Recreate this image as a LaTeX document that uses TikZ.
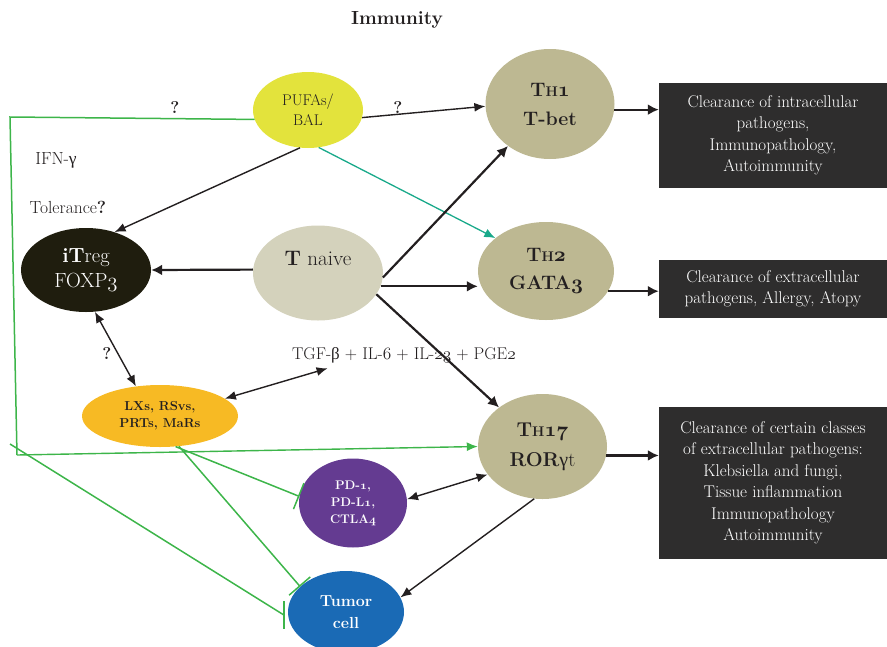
\documentclass[tikz,border=0pt]{standalone}
\usepackage{fontspec}
\usetikzlibrary{shapes.geometric,arrows.meta}
\newfontfamily\grk{Liberation Serif}
% old-style figures from the math italic font
\newcommand\osn[1]{{\fontencoding{OML}\fontfamily{cmm}\fontshape{it}\selectfont #1}}
\newcommand\subH{{\fontsize{14}{14}\selectfont H}}
\definecolor{ink}{HTML}{231F20}
\definecolor{pufc}{HTML}{E3E33C}
\definecolor{thc}{HTML}{BDB892}
\definecolor{naivec}{HTML}{D4D2BC}
\definecolor{tregc}{HTML}{1F1D0E}
\definecolor{lxc}{HTML}{F7BA24}
\definecolor{pdc}{HTML}{643B91}
\definecolor{tumc}{HTML}{1A6AB5}
\definecolor{boxc}{HTML}{2E2D2D}
\definecolor{grn}{HTML}{3DB54A}
\definecolor{teal}{HTML}{19A98A}
\tikzset{
  cell/.style={ellipse, inner sep=0pt, align=center, text=ink},
  outbox/.style={fill=boxc, text=white, align=center, inner sep=0pt,
    minimum width=228pt, font=\fontsize{17}{21.5}\selectfont},
  lab/.style={text=ink, font=\fontsize{17.5}{17.5}\selectfont},
  qlab/.style={text=ink, font=\bfseries\fontsize{17}{17}\selectfont},
  arr/.style={draw=ink, line width=2.2pt, -{Latex[length=11pt,width=11pt]}},
  thinarr/.style={draw=ink, line width=1.4pt, -{Latex[length=11pt,width=9pt]}},
  biarr/.style={draw=ink, line width=1.4pt, {Latex[length=11pt,width=9pt]}-{Latex[length=11pt,width=9pt]}},
  garr/.style={draw=grn, line width=1.4pt, -{Latex[length=11pt,width=9pt]}},
  tarr/.style={draw=teal, line width=1.3pt, -{Latex[length=11pt,width=9pt]}},
  gline/.style={draw=grn, line width=1.5pt},
  ginh/.style={draw=grn, line width=1.5pt, -{Bar[width=28pt,line width=1.5pt]}},
}
\begin{document}
\begin{tikzpicture}[x=1pt,y=-1pt]
\useasboundingbox (0,0) rectangle (887,646);

\node[font=\bfseries\fontsize{19}{19}\selectfont, text=ink] (title) at (397,20) {Immunity};

% cells
\node[cell, fill=pufc, minimum width=110pt, minimum height=76pt,
  font=\fontsize{15.5}{20}\selectfont] (puf) at (308,110) {PUFAs/\\BAL};
\node[cell, fill=thc, minimum width=129pt, minimum height=110pt,
  font=\bfseries\fontsize{19.5}{29}\selectfont] (th1) at (550,104) {T\subH\osn{1}\\T-bet};
\node[cell, fill=naivec, minimum width=130pt, minimum height=95pt] (tn) at (318,273) {};
\node[font=\fontsize{21}{21}\selectfont, text=ink] (tnlab) at ([yshift=15pt]tn.center) {\textbf{T} naive};
\node[cell, fill=thc, minimum width=136pt, minimum height=98pt,
  font=\bfseries\fontsize{19.5}{28}\selectfont] (th2) at (546,271) {T\subH\osn{2}\\GATA\osn{3}};
\node[cell, fill=tregc, minimum width=130pt, minimum height=84pt, text=white,
  font=\fontsize{20.5}{25}\selectfont] (treg) at (86,270) {\textbf{iT}reg\\FOXP\osn{3}};
\node[cell, fill=lxc, minimum width=156pt, minimum height=62pt,
  font=\bfseries\fontsize{13}{17}\selectfont] (lx) at (160,416) {LXs, RSvs,\\PRTs, MaRs};
\node[cell, fill=thc, minimum width=129pt, minimum height=105pt,
  font=\fontsize{20}{30}\selectfont] (th17) at (542.5,446.5) {\textbf{T\subH\osn{17}}\\\textbf{ROR}{\grk γ}t};
\node[cell, fill=pdc, minimum width=108pt, minimum height=89pt, text=white,
  font=\bfseries\fontsize{12.5}{17}\selectfont] (pd) at (353,503) {PD-\osn{1},\\PD-L\osn{1},\\CTLA\osn{4}};
\node[cell, fill=tumc, minimum width=116pt, minimum height=82pt, text=white,
  font=\bfseries\fontsize{16}{22}\selectfont] (tum) at (346,612) {Tumor\\cell};

% outcome boxes
\node[outbox, minimum height=105pt] (box1) at (773,135.5)
  {Clearance of intracellular\\pathogens,\\Immunopathology,\\Autoimmunity};
\node[outbox, minimum height=58pt] (box2) at (773,289)
  {Clearance of extracellular\\pathogens, Allergy, Atopy};
\node[outbox, minimum height=152pt] (box3) at (773,483)
  {Clearance of certain classes\\of extracellular pathogens:\\Klebsiella and fungi,\\Tissue inflammation\\Immunopathology\\Autoimmunity};

% free labels
\node[qlab] (q1) at (175,108) {?};
\node[lab] (ifn) at (56,160) {IFN-{\grk γ}};
\node[lab] (tol) at (68,207) {Tolerance\textbf{?}};
\node[qlab] (q3) at (107,354) {?};
\node[lab, font=\fontsize{17}{17}\selectfont] (tgf) at (404,355)
  {TGF-{\grk β} + IL-\osn{6} + IL-\osn{23} + PGE\osn{2}};

% green frame line into Th17
\coordinate (gtl) at (10,117);
\coordinate (gbl) at (17,455);
\coordinate (gst) at (10,444);
\draw[gline] (puf.190) -- (gtl) -- (gbl);
\draw[garr] (gbl) -- (th17.180);

% black arrows
\draw[thinarr] (puf.-8) -- (th1.182) node[qlab, pos=0.29, above=-3pt] {?};
\draw[thinarr] (puf.-102) -- (treg.53);
\draw[tarr] (puf.-74) -- (th2.147);
\draw[arr] (tn.177) -- (treg.east);
\draw[arr] (tn.-4) -- (th1.-135);
\draw[arr] (tn.-12) -- (tn.-12 -| th2.west);
\draw[arr] (tn.-20) -- (th17.138);
\draw[arr] (th1.-5) -- (th1.-5 -| box1.west);
\draw[arr] (th2.-18) -- (th2.-18 -| box2.west);
\draw[arr] (th17.-8) -- (th17.-8 -| box3.west);
\draw[biarr] (treg.-78) -- (lx.129);
\draw[biarr] (lx.15) -- ([xshift=39pt,yshift=-2pt]tgf.south west);
\draw[biarr] (pd.4) -- (th17.207);
\draw[thinarr] (th17.-99) -- (tum.15);

% green inhibitions
\draw[ginh] (lx.-63) -- (pd.173);
\draw[ginh] (lx.-58) -- (tum.151);
\draw[gline] (gst) -- ([xshift=-4pt]tum.183);
\draw[gline] ([shift={(-4,-14)}]tum.183) -- ([shift={(-4,14)}]tum.183);
\end{tikzpicture}
\end{document}
